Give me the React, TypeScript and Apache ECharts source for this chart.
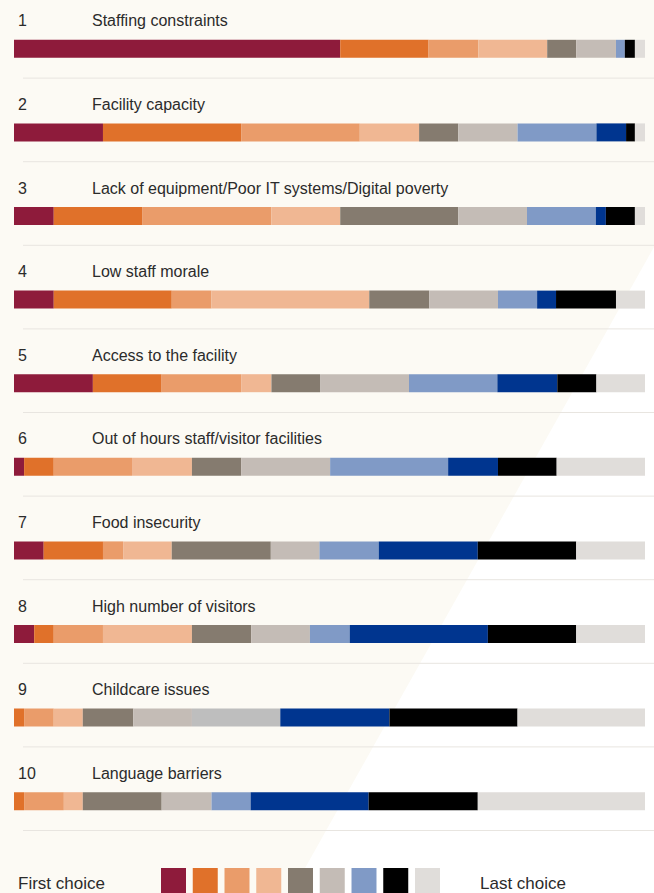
import React, { useEffect, useRef } from "react";
import * as echarts from "echarts";

const categories = [
  "Staffing constraints",
  "Facility capacity",
  "Lack of equipment/Poor IT systems/Digital poverty",
  "Low staff morale",
  "Access to the facility",
  "Out of hours staff/visitor facilities",
  "Food insecurity",
  "High number of visitors",
  "Childcare issues",
  "Language barriers",
];

// share of respondents (%) ranking each barrier at each position (1 = first choice ... 10 = last choice)
const choice1 = [51.7, 14.1, 6.3, 6.3, 12.5, 1.6, 4.7, 3.2, 0, 0];
const choice2 = [14.0, 21.9, 14.0, 18.7, 10.9, 4.7, 9.4, 3.1, 1.6, 1.6];
const choice3 = [7.9, 18.8, 20.5, 6.3, 12.6, 12.4, 3.2, 7.8, 4.7, 6.3];
const choice4 = [10.9, 9.4, 10.9, 25.0, 4.8, 9.5, 7.7, 14.1, 4.6, 3.0];
const choice5 = [4.6, 6.2, 18.7, 9.5, 7.7, 7.8, 15.7, 9.4, 8.0, 12.5];
const choice6 = [6.3, 9.4, 10.9, 10.9, 14.1, 14.1, 7.7, 9.3, 9.3, 7.9];
const choice7 = [1.4, 12.5, 10.9, 6.2, 14.0, 18.7, 9.4, 6.3, 14.0, 6.2];
const choice8 = [0, 4.7, 1.6, 3.0, 9.5, 7.9, 15.7, 21.9, 17.3, 18.7];
const choice9 = [1.6, 1.4, 4.6, 9.5, 6.2, 9.3, 15.6, 14.0, 20.3, 17.3];
const choice10 = [1.6, 1.6, 1.6, 4.6, 7.7, 14.0, 10.9, 10.9, 20.2, 26.5];

const choices = [choice1, choice2, choice3, choice4, choice5, choice6, choice7, choice8, choice9, choice10];
const choiceNames = ["Choice 1", "Choice 2", "Choice 3", "Choice 4", "Choice 5", "Choice 6", "Choice 7", "Choice 8", "Choice 9", "Choice 10"];
const colors = ["#8E1B3B", "#E0712A", "#EA9C6A", "#F0B793", "#857B6F", "#C4BCB6", "#809AC6", "#00358F", "#000000", "#E0DDDA"];
const legendNames = ["Choice 1", "Choice 2", "Choice 3", "Choice 4", "Choice 5", "Choice 6", "Choice 7", "Choice 9", "Choice 10"];

const W = 654;
const H = 893;
const GRID_TOP = 7;
const GRID_H = 836;
const FONT = "'Liberation Sans', Arial, sans-serif";

export default function App() {
  const ref = useRef<HTMLDivElement>(null);
  useEffect(() => {
    if (!ref.current) return;
    const chart = echarts.init(ref.current, null, { renderer: "svg" });
    const band = GRID_H / categories.length;
    const sepLines = categories.map((_, i) => ({
      type: "line",
      z: 1,
      shape: { x1: 23, y1: GRID_TOP + band * (i + 1) - 12.5, x2: W, y2: GRID_TOP + band * (i + 1) - 12.5 },
      style: { stroke: "#E8E5E0", lineWidth: 1 },
    }));
    chart.setOption({
      animation: false,
      backgroundColor: "#FFFFFF",
      textStyle: { fontFamily: FONT },
      grid: { left: 14, right: 9, top: GRID_TOP, height: GRID_H, containLabel: false },
      xAxis: { type: "value", min: 0, max: 100, show: false },
      yAxis: {
        type: "category",
        data: categories,
        inverse: true,
        axisLine: { show: false },
        axisTick: { show: false },
        splitLine: { show: false },
        axisLabel: {
          inside: true,
          margin: 4,
          padding: [0, 0, 56, 0],
          formatter: (v: string, i: number) => `{n|${i + 1}}{t|${v}}`,
          rich: {
            n: { width: 74, fontSize: 16, color: "#2B2B2B", fontFamily: FONT },
            t: { fontSize: 16, color: "#2B2B2B", fontFamily: FONT },
          },
        },
        z: 5,
      },
      legend: {
        data: legendNames,
        left: 161,
        top: 868,
        padding: 0,
        itemWidth: 25,
        itemHeight: 25,
        itemGap: 6.75,
        icon: "rect",
        selectedMode: false,
        formatter: () => "",
        textStyle: { fontSize: 1 },
      },
      graphic: [
        {
          type: "polygon",
          z: 0,
          silent: true,
          shape: { points: [[0, 0], [W, 0], [W, 247], [291, H], [0, H]] },
          style: { fill: "#FCFAF4" },
        },
        ...sepLines,
        {
          type: "text",
          left: 18,
          top: 875,
          z: 3,
          style: { text: "First choice", fontSize: 17, fill: "#2B2B2B", fontFamily: FONT },
        },
        {
          type: "text",
          left: 480,
          top: 875,
          z: 3,
          style: { text: "Last choice", fontSize: 17, fill: "#2B2B2B", fontFamily: FONT },
        },
      ],
      series: choices.map((d, k) => ({
        name: choiceNames[k],
        type: "bar",
        stack: "rank",
        barWidth: 18,
        itemStyle: { color: colors[k] },
        data: d.map((v, r) =>
          k === 6 && r === 8 ? { value: v, itemStyle: { color: "#BEBEBE" } } : v
        ),
        emphasis: { disabled: true },
        z: 2,
      })),
    });
    return () => chart.dispose();
  }, []);
  return <div ref={ref} style={{ position: "fixed", left: 0, top: 0, width: W, height: H }} />;
}
